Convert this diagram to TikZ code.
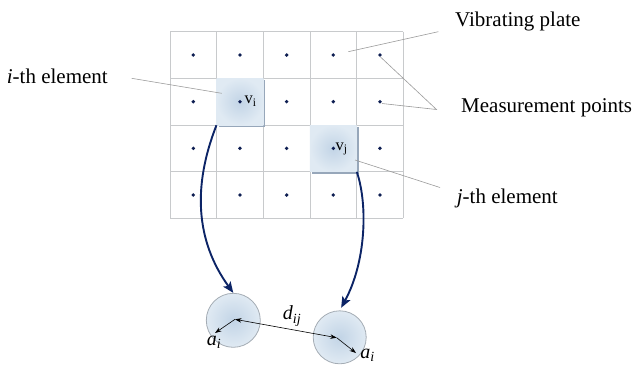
\documentclass[tikz,border=0pt]{standalone}
\usepackage{fontspec}
\setmainfont{Liberation Serif}
\usetikzlibrary{arrows.meta,shadows}

\definecolor{navy}{HTML}{0C2466}
\definecolor{dotc}{HTML}{0E1E52}
\definecolor{gridc}{HTML}{C8CACC}
\definecolor{leadc}{HTML}{9A9A9A}
\definecolor{cellin}{HTML}{C2D4E6}
\definecolor{cellout}{HTML}{E0EAF3}
\definecolor{shadc}{HTML}{97A7BA}
\definecolor{rimc}{HTML}{A4ACB4}

\tikzset{
  gridline/.style={draw=gridc, line width=0.8pt},
  mpoint/.style={fill=dotc},
  elemcell/.style={rectangle, minimum size=46.7pt, inner sep=0pt,
    shade, inner color=cellin, outer color=cellout,
    general shadow={shadow xshift=2pt, shadow yshift=-2pt, fill=shadc}},
  node disc/.style={circle, minimum size=#1, inner sep=0pt, draw=rimc,
    line width=0.8pt, shade, inner color=cellin, outer color=cellout},
  leader/.style={draw=leadc, line width=0.6pt},
  mapping/.style={draw=navy, line width=1.9pt,
    -{Stealth[length=11pt,width=9pt,inset=2.5pt]}},
  measure/.style={draw=black, line width=0.6pt},
  bigtext/.style={font=\fontsize{21}{25}\selectfont, inner sep=0pt},
  sym/.style={font=\fontsize{16.5}{19}\selectfont, inner sep=0pt},
  mathlabel/.style={font=\fontsize{20}{24}\selectfont\itshape, inner sep=0pt}
}

\begin{document}
\begin{tikzpicture}[x=1pt,y=-1pt]
\useasboundingbox (0,0) rectangle (636,365);

% plate grid: 5 columns x 4 rows
\foreach \i in {0,...,5}
  \draw[gridline] (170+46.67*\i,31.7) -- (170+46.67*\i,218.4);
\foreach \j in {0,...,4}
  \draw[gridline] (170,31.7+46.67*\j) -- (403.4,31.7+46.67*\j);

% the two highlighted elements
\node[elemcell] (vi) at (240,101.7) {};
\node[elemcell] (vj) at (333.3,148.4) {};

% measurement points at the cell centres
\foreach \i in {0,...,4}
  \foreach \j in {0,...,3}
    \fill[mpoint] (193.3+46.67*\i,55+46.67*\j) circle (1.9);

\node[sym, anchor=base west] (lvi) at (244.5,103.5) {v\textsubscript{i}};
\node[sym, anchor=base west] (lvj) at (335.5,150) {v\textsubscript{j}};

% labels
\node[bigtext, anchor=base west] (vp) at (455,26.7) {Vibrating plate};
\node[bigtext, anchor=base west] (mp) at (461,112.5) {Measurement points};
\node[bigtext, anchor=base west] (ie) at (6.7,83.3) {\textit{i}-th element};
\node[bigtext, anchor=base west] (je) at (456.7,203.3) {\textit{j}-th element};

% leader lines
\coordinate (vpend) at (438.3,31.7);
\coordinate (vpfoot) at (348.3,51.7);
\coordinate (mpapex) at (436.5,109.5);
\coordinate (mp1) at (380.5,57);
\coordinate (mp2) at (382,103.5);
\coordinate (ieend) at (131.7,78.3);
\coordinate (iefoot) at (221.7,93.3);
\coordinate (jeend) at (440,187.5);
\coordinate (jefoot) at (355,160);
\draw[leader] (vpend) -- (vpfoot);
\draw[leader] (mp1) -- (mpapex) -- (mp2);
\draw[leader] (ieend) -- (iefoot);
\draw[leader] (jeend) -- (jefoot);

% element discs
\node[node disc=54pt] (ci) at (233.3,320.3) {};
\node[node disc=53pt] (cj) at (339.7,337.3) {};

% mapping arrows from elements to discs
\draw[mapping] (vi.south west) .. controls (193,185) and (195,240) .. (ci.north);
\draw[mapping, shorten >=3pt] (vj.south east) .. controls (368,205) and (366,262) .. (cj.north);

% distance and radii
\coordinate (oi) at (235,319.3);
\coordinate (oj) at (336.7,337.7);
\coordinate (ri) at (215,333);
\coordinate (rj) at (356,353);
\draw[measure, {Stealth[length=6.5pt,width=4.5pt]}-{Stealth[length=6.5pt,width=4.5pt]}] (oi) -- (oj);
\draw[measure, -{Stealth[length=6.5pt,width=4.5pt]}] (oi) -- (ri);
\draw[measure, -{Stealth[length=6.5pt,width=4.5pt]}] (oj) -- (rj);

\node[mathlabel] (dij) at (292,316) {d\textsubscript{ij}};
\node[mathlabel] (ai) at (214,342) {a\textsubscript{i}};
\node[mathlabel] (aj) at (367.5,355) {a\textsubscript{i}};
\end{tikzpicture}
\end{document}
